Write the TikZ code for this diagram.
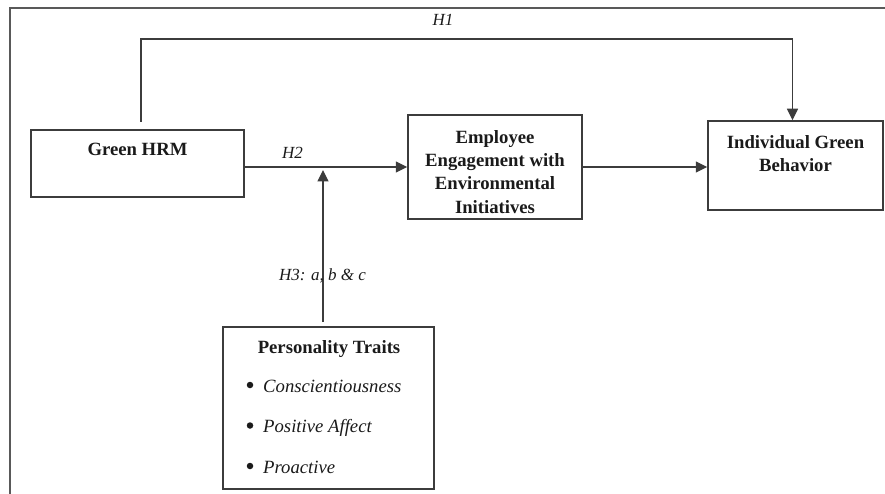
\documentclass[tikz,border=0pt]{standalone}
\usepackage{fontspec}
\setmainfont{Liberation Serif}
\usepackage{tikz}
\usetikzlibrary{arrows.meta}
\definecolor{lineclr}{HTML}{3C3C3C}
\definecolor{txtclr}{HTML}{1A1A1A}
\tikzset{
  boxnode/.style   = {draw=lineclr,line width=1.5pt,inner sep=0pt},
  titletxt/.style  = {font=\fontsize{18.7}{23.3}\selectfont\bfseries,text=txtclr,align=center,inner sep=0pt,anchor=north},
  itemtxt/.style   = {font=\fontsize{18.7}{23.3}\selectfont\itshape,text=txtclr,inner sep=0pt},
  bulletdot/.style = {circle,fill=txtclr,inner sep=0pt,minimum size=6.5pt},
  hyplabel/.style  = {font=\fontsize{17}{20}\selectfont\itshape,text=txtclr,inner sep=0pt},
  patharr/.style   = {-{Triangle[length=11.5pt,width=11pt]},lineclr,line width=1.1pt},
  frameline/.style = {lineclr!85,line width=1.8pt}
}

\begin{document}
\begin{tikzpicture}[x=1pt,y=-1pt]
  \useasboundingbox (0,0) rectangle (885,494);
  % --- frame: only its top and left edges show
  \draw[frameline] (885,8) -- (10,8) -- (10,494);
  % --- the four constructs, text sits near the top of each box
  \node[boxnode,minimum width=213pt,minimum height=67pt]  (hrm) at (137.5,163.5) {};
  \node[boxnode,minimum width=174pt,minimum height=104pt] (eng) at (495,167) {};
  \node[boxnode,minimum width=175pt,minimum height=89pt]  (igb) at (795.5,165.5) {};
  \node[boxnode,minimum width=211pt,minimum height=162pt] (pt)  at (328.5,408) {};
  \node[titletxt] (hrmtxt) at (137.5,143) {Green HRM};
  \node[titletxt] (engtxt) at (495,130) {Employee\\Engagement with\\Environmental\\Initiatives};
  \node[titletxt] (igbtxt) at (795.5,135) {Individual Green\\Behavior};
  \node[titletxt] (pttxt)  at (329,340) {Personality Traits};
  \foreach \txt [count=\i from 0] in {Conscientiousness,Positive Affect,Proactive} {
    \node[bulletdot] (bul\i) at (250,{385+40.5*\i}) {};
    \node[itemtxt,anchor=base west] (item\i) at (263,{392+40.5*\i}) {\txt};
  }
  % --- H1: direct path over the top
  \coordinate (h1s) at (141,122);
  \coordinate (h1c) at (141,39);
  \draw[patharr] (h1s) -- (h1c) -| ([xshift=-3pt]igb.north);
  \node[hyplabel] (h1lab) at (443,20) {H1};
  % --- H2 and the mediated path
  \draw[patharr] (hrm.east |- eng.west) -- (eng.west);
  \node[hyplabel] (h2lab) at (292.5,153) {H2};
  \draw[patharr] (eng.east) -- (eng.east -| igb.west);
  % --- H3: moderation arrow from below
  \coordinate (h3s) at (323,322);
  \coordinate (h3e) at (323,170);
  \draw[patharr] (h3s) -- (h3e);
  \node[hyplabel] (h3lab) at (322.5,276) {H3: a, b \& c};
\end{tikzpicture}
\end{document}
